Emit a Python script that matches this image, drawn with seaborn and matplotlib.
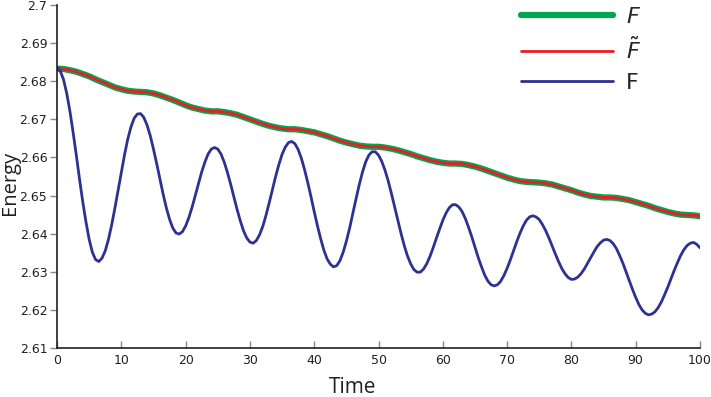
import matplotlib
matplotlib.use("Agg")
import matplotlib.pyplot as plt
from matplotlib.ticker import FuncFormatter
import seaborn as sns
import pandas as pd

###############
# data
###############

# half-unit grid for the fast blue curve, whole units for the slow ones
time_fine = [i * 0.5 for i in range(201)]
time = list(range(0, 101))

# blue curve, upright F (one value every 0.5)
energy_F = [
    2.6835, 2.6827, 2.6805, 2.6769, 2.6722, 2.6666, 2.6606, 2.6543, 2.6484, 2.6431,
    2.6385, 2.6351, 2.6332, 2.6327, 2.6336, 2.6355, 2.6385, 2.6423, 2.6467, 2.6514,
    2.6562, 2.6607, 2.6648, 2.6680, 2.6703, 2.6714, 2.6715, 2.6705, 2.6685, 2.6657,
    2.6622, 2.6584, 2.6544, 2.6504, 2.6468, 2.6438, 2.6415, 2.6402, 2.6399, 2.6405,
    2.6420, 2.6442, 2.6469, 2.6500, 2.6531, 2.6562, 2.6588, 2.6609, 2.6622, 2.6626,
    2.6622, 2.6609, 2.6588, 2.6561, 2.6530, 2.6497, 2.6464, 2.6434, 2.6408, 2.6389,
    2.6378, 2.6375, 2.6382, 2.6397, 2.6419, 2.6448, 2.6481, 2.6516, 2.6550, 2.6581,
    2.6608, 2.6627, 2.6639, 2.6642, 2.6636, 2.6621, 2.6598, 2.6568, 2.6534, 2.6497,
    2.6458, 2.6421, 2.6387, 2.6357, 2.6334, 2.6320, 2.6313, 2.6316, 2.6329, 2.6351,
    2.6380, 2.6414, 2.6453, 2.6491, 2.6528, 2.6561, 2.6588, 2.6606, 2.6615, 2.6615,
    2.6606, 2.6590, 2.6567, 2.6539, 2.6506, 2.6471, 2.6436, 2.6401, 2.6369, 2.6342,
    2.6321, 2.6306, 2.6299, 2.6299, 2.6307, 2.6321, 2.6340, 2.6363, 2.6388, 2.6412,
    2.6435, 2.6454, 2.6468, 2.6476, 2.6476, 2.6470, 2.6458, 2.6440, 2.6417, 2.6392,
    2.6365, 2.6338, 2.6314, 2.6292, 2.6276, 2.6266, 2.6263, 2.6266, 2.6275, 2.6290,
    2.6309, 2.6331, 2.6355, 2.6379, 2.6401, 2.6420, 2.6435, 2.6444, 2.6447, 2.6444,
    2.6437, 2.6424, 2.6408, 2.6389, 2.6368, 2.6347, 2.6327, 2.6309, 2.6295, 2.6285,
    2.6280, 2.6281, 2.6286, 2.6295, 2.6307, 2.6322, 2.6337, 2.6352, 2.6366, 2.6376,
    2.6383, 2.6385, 2.6382, 2.6374, 2.6361, 2.6343, 2.6323, 2.6300, 2.6277, 2.6254,
    2.6233, 2.6214, 2.6200, 2.6191, 2.6187, 2.6189, 2.6195, 2.6206, 2.6221, 2.6240,
    2.6260, 2.6282, 2.6304, 2.6324, 2.6343, 2.6358, 2.6369, 2.6375, 2.6377, 2.6372,
    2.6363,
]

# green curve, italic F
energy_F_it = [
    2.6833, 2.6832, 2.6829, 2.6825, 2.6819, 2.6813, 2.6805, 2.6798, 2.6791, 2.6784,
    2.6779, 2.6775, 2.6773, 2.6772, 2.6771, 2.6768, 2.6763, 2.6757, 2.6751, 2.6744,
    2.6737, 2.6731, 2.6727, 2.6723, 2.6721, 2.6721, 2.6719, 2.6716, 2.6712, 2.6706,
    2.6700, 2.6694, 2.6688, 2.6683, 2.6679, 2.6676, 2.6674, 2.6674, 2.6672, 2.6669,
    2.6666, 2.6661, 2.6656, 2.6650, 2.6644, 2.6639, 2.6635, 2.6631, 2.6629, 2.6628,
    2.6628, 2.6626, 2.6623, 2.6619, 2.6614, 2.6609, 2.6603, 2.6598, 2.6593, 2.6589,
    2.6586, 2.6584, 2.6584, 2.6583, 2.6580, 2.6576, 2.6571, 2.6565, 2.6559, 2.6553,
    2.6547, 2.6542, 2.6538, 2.6536, 2.6535, 2.6534, 2.6532, 2.6529, 2.6524, 2.6519,
    2.6514, 2.6508, 2.6503, 2.6499, 2.6497, 2.6495, 2.6495, 2.6494, 2.6491, 2.6488,
    2.6483, 2.6478, 2.6473, 2.6467, 2.6462, 2.6457, 2.6453, 2.6450, 2.6449, 2.6448,
    2.6446,
]

# red curve, F tilde - sits right on top of the green one
energy_F_tilde = list(energy_F_it)

labels = ["$F$", r"$\tilde{F}$", "F"]
colors = ["#00a651", "#ed1c24", "#2e3192"]

###############
# plot
###############

sns.set_style("white")
plt.rcParams["font.family"] = ["DejaVu Sans"]

df_slow = pd.DataFrame({"Time": time, "F_it": energy_F_it, "F_tilde": energy_F_tilde})
df_fast = pd.DataFrame({"Time": time_fine, "F": energy_F})

fig = plt.figure(figsize=(7.11, 3.97), dpi=100)
ax = fig.add_axes([0.0802, 0.1234, 0.9043, 0.864])

sns.lineplot(data=df_slow, x="Time", y="F_it", color=colors[0], linewidth=4.5,
             label=labels[0], ax=ax)
sns.lineplot(data=df_slow, x="Time", y="F_tilde", color=colors[1], linewidth=2,
             label=labels[1], ax=ax)
sns.lineplot(data=df_fast, x="Time", y="F", color=colors[2], linewidth=2,
             label=labels[2], ax=ax)

ax.set_xlim(0, 100)
ax.set_ylim(2.61, 2.7)
ax.set_xticks(range(0, 101, 10))
ax.set_yticks([2.61 + 0.01 * i for i in range(10)])
ax.yaxis.set_major_formatter(FuncFormatter(lambda v, p: f"{v:g}"))

sns.despine(ax=ax)
for s in ["left", "bottom"]:
    ax.spines[s].set_color("#231f20")
    ax.spines[s].set_linewidth(1.2)

ax.tick_params(axis="y", direction="out", length=5, width=1, color="#888888",
               labelsize=9, labelcolor="#231f20", pad=2, left=True)
ax.tick_params(axis="x", direction="in", length=5, width=1, color="#888888",
               labelsize=9, labelcolor="#231f20", pad=4, bottom=True)

ax.set_xlabel("Time", fontsize=15, family="Open Sans", color="#231f20")
ax.set_ylabel("Energy", fontsize=14.5, family="Open Sans", color="#231f20")
ax.xaxis.set_label_coords(0.46, -0.085)
ax.yaxis.set_label_coords(-0.057, 0.48)

leg = ax.legend(loc="upper right", frameon=False, fontsize=16, handlelength=4.1,
                handletextpad=0.6, labelspacing=0.45, borderaxespad=0.0,
                bbox_to_anchor=(0.922, 1.02))

fig.savefig("out.png", dpi=100)
